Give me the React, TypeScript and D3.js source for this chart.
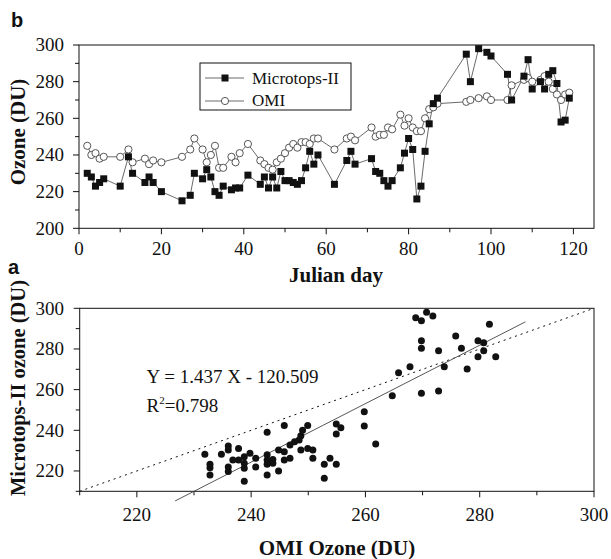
import React from "react";
import * as d3 from "d3";

// ---- Panel b: time series ----
const days = [2,3,4,5,6,10,12,13,16,17,18,20,25,27,28,30,31,32,33,34,35,37,38,39,41,44,45,46,47,48,49,50,51,52,53,54,55,56,57,58,62,65,66,67,71,72,73,74,75,76,78,79,80,81,82,83,84,85,86,87,94,95,97,99,100,104,105,108,109,110,112,113,114,115,116,117,118,119];
const microtops = [230,228,223,225,227,223,239,230,225,228,225,220,215,218,230,227,232,228,220,218,223,221,222,222,229,224,228,222,228,222,231,226,226,225,224,226,233,242,235,240,224,237,242,235,238,231,230,226,223,226,233,241,249,243,216,223,242,257,268,271,295,280,298,296,294,284,270,283,292,276,280,276,284,286,279,258,259,271];
const omi = [245,240,241,238,239,239,243,236,238,235,237,236,239,243,249,243,236,240,245,233,233,239,236,241,246,237,235,233,232,236,238,241,244,246,244,247,247,246,249,249,243,249,250,248,255,250,251,251,255,254,262,256,260,255,253,253,260,265,266,268,269,270,271,272,270,270,278,281,282,280,281,283,280,276,273,270,273,274];
const dayTicks = [0,10,20,30,40,50,60,70,80,90,100,110,120];
const ozoneTicks = [200,210,220,230,240,250,260,270,280,290,300];
const seriesNames = ["Microtops-II", "OMI"];

// ---- Panel a: scatter ----
const scatterOMI = [231.9,232.8,232.8,232.8,234.8,236,236,236,236,236.8,237.8,237.8,238.8,238.8,238.8,238.8,239.8,240.8,240.8,242.8,242.8,242.8,242.8,242.8,243.8,243.8,244.8,244.8,245.8,245.8,245.8,246.8,246.8,247.6,248.4,248.7,249,248.7,249.9,249.9,250.8,250.8,252.8,253.8,254.9,252.8,254.9,255.7,254.9,259.8,259.8,261.8,264.7,265.8,267.8,268.8,269.8,270.7,271.8,269.8,269.8,269.8,272.8,272.8,273.8,275.8,276.8,277.8,279.7,280.7,279.7,280.7,281.7,282.8];
const scatterMicro = [228.2,223.3,221.6,218,228.2,232.3,230.3,222,219.7,225.4,231,225.4,227,223.8,221.3,215,228.7,226.2,222,239,228,225.4,223.3,218,225.7,223.8,230.3,220,242.3,229.5,225.4,226.2,232.8,234.4,235.2,237.3,240,230.3,242.3,231,230.3,226.2,223.3,226.2,223.3,216.4,243.1,241.3,238.2,249.1,242.1,233.3,257,268.3,271.3,295.4,293.9,298,296.2,284,280.3,258.2,279.1,259.3,271.3,286.4,280.3,270.1,284,283.1,276.2,279.1,292.2,276.2];
const fitSlope = 1.437;
const fitIntercept = -120.509;
const fitRange = [226.7, 288];
const scatterTicks = [210,220,230,240,250,260,270,280,290,300];
const equationText = "Y = 1.437 X - 120.509";
const r2Value = "0.798";

const SERIF = "'Liberation Serif', 'Times New Roman', serif";
const SANS = "'Liberation Sans', Arial, sans-serif";
const INK = "#111";
const LINE = "#444";

export default function App() {
  // top scales
  const xT = d3.scaleLinear().domain([0, 125]).range([79, 594]);
  const yT = d3.scaleLinear().domain([200, 300]).range([228.3, 45]);
  // bottom scales
  const xB = d3.scaleLinear().domain([210, 300]).range([79.7, 594]);
  const yB = d3.scaleLinear().domain([210, 300]).range([491.3, 308.3]);

  const lineGen = d3.line<[number, number]>().x(d => xT(d[0])).y(d => yT(d[1]));
  const microPts: [number, number][] = days.map((d, i) => [d, microtops[i]]);
  const omiPts: [number, number][] = days.map((d, i) => [d, omi[i]]);

  const sq = 7;
  const cr = 3.6;

  return (
    <svg width={611} height={559} style={{ display: "block", position: "absolute", left: 0, top: 0 }} fontFamily={SERIF}>
      <rect x={0} y={0} width={611} height={559} fill="#fff" />
      {/* ===== Panel b ===== */}
      <text x={11} y={27} fontFamily={SANS} fontWeight="bold" fontSize={20} fill={INK}>b</text>
      <rect x={xT(0)} y={yT(300)} width={xT(125) - xT(0)} height={yT(200) - yT(300)} fill="none" stroke={INK} strokeWidth={1} />
      {dayTicks.map(t => (
        <g key={"xt" + t}>
          <line x1={xT(t)} x2={xT(t)} y1={yT(200)} y2={yT(200) + (t % 20 === 0 ? 6 : 4)} stroke={INK} />
          {t % 20 === 0 && (
            <text x={xT(t)} y={255} textAnchor="middle" fontSize={19} fill={INK}>{t}</text>
          )}
        </g>
      ))}
      {ozoneTicks.map(t => (
        <g key={"yt" + t}>
          <line x1={xT(0)} x2={xT(0) - (t % 20 === 0 ? 6 : 4)} y1={yT(t)} y2={yT(t)} stroke={INK} />
          {t % 20 === 0 && (
            <text x={64} y={yT(t)} dy="0.34em" textAnchor="end" fontSize={19} fill={INK}>{t}</text>
          )}
        </g>
      ))}
      <text x={336} y={282} textAnchor="middle" fontSize={21} fontWeight="bold" fill={INK}>Julian day</text>
      <text transform={`translate(25,132) rotate(-90)`} textAnchor="middle" fontSize={21} fontWeight="bold" fill={INK}>Ozone (DU)</text>

      <path d={lineGen(omiPts) || ""} fill="none" stroke={LINE} strokeWidth={0.8} />
      <path d={lineGen(microPts) || ""} fill="none" stroke={LINE} strokeWidth={0.8} />
      {omiPts.map((p, i) => (
        <circle key={"o" + i} cx={xT(p[0])} cy={yT(p[1])} r={cr} fill="#fff" stroke={LINE} strokeWidth={0.9} />
      ))}
      {microPts.map((p, i) => (
        <rect key={"m" + i} x={xT(p[0]) - sq / 2} y={yT(p[1]) - sq / 2} width={sq} height={sq} fill={INK} />
      ))}

      {/* legend */}
      <rect x={200} y={63} width={151} height={47} fill="#fff" stroke={INK} strokeWidth={1} />
      <line x1={205} x2={244} y1={78} y2={78} stroke={LINE} strokeWidth={0.8} />
      <rect x={225 - sq / 2} y={78 - sq / 2} width={sq} height={sq} fill={INK} />
      <text x={252} y={84} fontSize={17} fill={INK}>{seriesNames[0]}</text>
      <line x1={205} x2={244} y1={101} y2={101} stroke={LINE} strokeWidth={0.8} />
      <circle cx={225} cy={101} r={cr} fill="#fff" stroke={LINE} strokeWidth={0.9} />
      <text x={252} y={106} fontSize={17} fill={INK}>{seriesNames[1]}</text>

      {/* ===== Panel a ===== */}
      <text x={8} y={274} fontFamily={SANS} fontWeight="bold" fontSize={20} fill={INK}>a</text>
      <rect x={xB(210)} y={yB(300)} width={xB(300) - xB(210)} height={yB(210) - yB(300)} fill="none" stroke={INK} strokeWidth={1} />
      {scatterTicks.map(t => (
        <g key={"bx" + t}>
          <line x1={xB(t)} x2={xB(t)} y1={yB(210)} y2={yB(210) + (t % 20 === 0 ? 6 : 4)} stroke={INK} />
          {t % 20 === 0 && t > 210 && (
            <text x={xB(t)} y={521} textAnchor="middle" fontSize={19} fill={INK}>{t}</text>
          )}
        </g>
      ))}
      {scatterTicks.map(t => (
        <g key={"by" + t}>
          <line x1={xB(210)} x2={xB(210) - (t % 20 === 0 ? 6 : 4)} y1={yB(t)} y2={yB(t)} stroke={INK} />
          {t % 20 === 0 && t > 210 && (
            <text x={64} y={yB(t)} dy="0.34em" textAnchor="end" fontSize={19} fill={INK}>{t}</text>
          )}
        </g>
      ))}
      <text x={337} y={555} textAnchor="middle" fontSize={21} fontWeight="bold" fill={INK}>OMI Ozone (DU)</text>
      <text transform={`translate(25,388) rotate(-90)`} textAnchor="middle" fontSize={20.5} fontWeight="bold" fill={INK}>Microtops-II ozone (DU)</text>

      {/* 1:1 line */}
      <line x1={xB(210)} y1={yB(210)} x2={xB(300)} y2={yB(300)} stroke={INK} strokeWidth={1} strokeDasharray="2,4" />
      {/* regression */}
      <line x1={xB(fitRange[0])} y1={yB(fitSlope * fitRange[0] + fitIntercept)} x2={xB(fitRange[1])} y2={yB(fitSlope * fitRange[1] + fitIntercept)} stroke={LINE} strokeWidth={0.9} />
      {scatterOMI.map((v, i) => (
        <circle key={"s" + i} cx={xB(v)} cy={yB(scatterMicro[i])} r={3.5} fill={INK} />
      ))}
      <text x={146.5} y={383} fontSize={19} fill={INK}>{equationText}</text>
      <text x={146.5} y={412} fontSize={19} fill={INK}>R<tspan dy={-8} fontSize={11}>2</tspan><tspan dy={8}>={r2Value}</tspan></text>
    </svg>
  );
}
